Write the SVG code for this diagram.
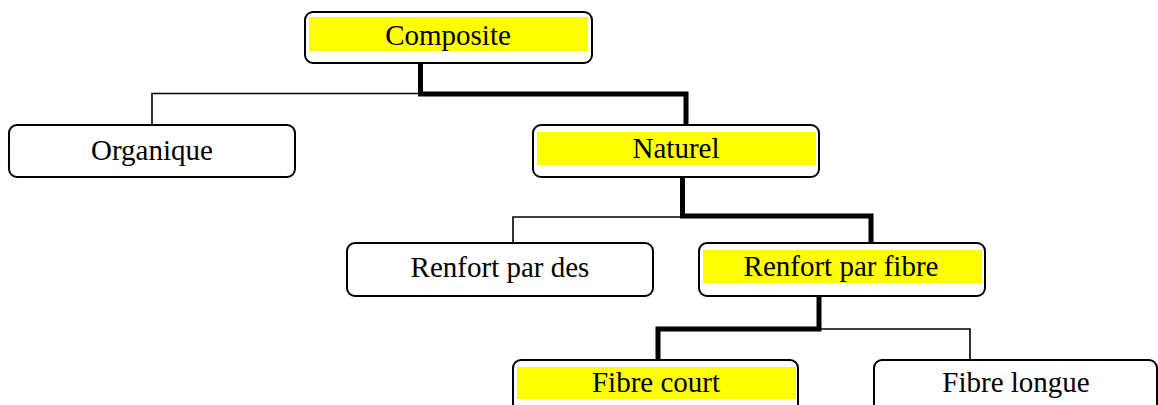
<svg xmlns="http://www.w3.org/2000/svg" width="1158" height="405" viewBox="0 0 1158 405">
<style>
.box{fill:#fff;stroke:#000;stroke-width:2}
.hl{fill:#ffff00;stroke:none}
.lbl{font-family:"Liberation Serif","Times New Roman",serif;font-size:29px;fill:#000;text-anchor:middle}
.thin{fill:none;stroke:#000;stroke-width:1.6}
.thick{fill:none;stroke:#000;stroke-width:5;stroke-linejoin:miter}
</style>
<rect width="1158" height="405" fill="#fff"/>
<g id="connectors">
<path class="thin" d="M152,125 V93.5 H420"/>
<path class="thick" d="M420.5,63 V94 H686 V125"/>
<path class="thin" d="M513,243 V217 H682"/>
<path class="thick" d="M682.5,177 V216 H871 V243"/>
<path class="thin" d="M819,329 H970 V360"/>
<path class="thick" d="M819,296 V329 H658 V360"/>
</g>
<g id="composite">
<rect class="box" x="305" y="12" width="287" height="51" rx="8"/>
<rect class="hl" x="309" y="17" width="279" height="34"/>
<text class="lbl" x="448" y="45">Composite</text>
</g>
<g id="organique">
<rect class="box" x="9" y="125" width="286" height="52" rx="8"/>
<text class="lbl" x="152" y="160">Organique</text>
</g>
<g id="naturel">
<rect class="box" x="533" y="125" width="286" height="52" rx="8"/>
<rect class="hl" x="537" y="132" width="279" height="33"/>
<text class="lbl" x="676" y="158">Naturel</text>
</g>
<g id="renfort-des">
<rect class="box" x="347" y="243" width="306" height="53" rx="8"/>
<text class="lbl" x="500" y="277">Renfort par des</text>
</g>
<g id="renfort-fibre">
<rect class="box" x="699" y="243" width="286" height="53" rx="8"/>
<rect class="hl" x="703" y="250" width="279" height="33"/>
<text class="lbl" x="841" y="276">Renfort par fibre</text>
</g>
<g id="fibre-court">
<rect class="box" x="513" y="360" width="285" height="60" rx="8"/>
<rect class="hl" x="517" y="367" width="279" height="32"/>
<text class="lbl" x="656" y="392">Fibre court</text>
</g>
<g id="fibre-longue">
<rect class="box" x="874" y="360" width="283" height="60" rx="8"/>
<text class="lbl" x="1016" y="392">Fibre longue</text>
</g>
</svg>
